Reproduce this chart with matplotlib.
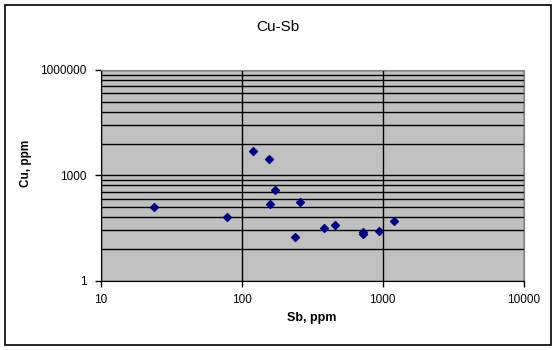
import matplotlib.pyplot as plt
from matplotlib.patches import Rectangle
from matplotlib.ticker import FixedLocator, NullFormatter

plt.rcParams['font.family'] = ['Liberation Sans', 'DejaVu Sans']

# Sb and Cu concentrations, ppm
sb = [24, 79, 120, 157, 173, 160, 261, 240, 385, 461, 724, 724, 946, 1208]
cu = [121, 63, 4890, 2830, 370, 147, 168, 16.9, 30.5, 37.8, 23.4, 20.9, 25.5, 49.2]

x_ticks = [10, 100, 1000, 10000]
y_ticks = [1, 1000, 1000000]
# minor gridlines sit at the base-10 positions inside each 1000x step
y_minor = [j ** 3 * base for base in (1, 1000) for j in range(2, 10)]

W, H = 557, 350
fig = plt.figure(figsize=(W / 100, H / 100), dpi=100)
fig.patches.append(Rectangle((5 / W, 5 / H), 546 / W, 340 / H,
                             transform=fig.transFigure, fill=False,
                             edgecolor='black', linewidth=1.2))

ax = fig.add_axes([100.5 / W, 1 - 280.5 / H, 423 / W, 210.5 / H])
ax.set_facecolor('#c0c0c0')
ax.set_xscale('log')
ax.set_yscale('log')
ax.set_xlim(10, 10000)
ax.set_ylim(1, 1000000)

ax.xaxis.set_major_locator(FixedLocator(x_ticks))
ax.xaxis.set_minor_locator(FixedLocator([]))
ax.set_xticklabels([str(v) for v in x_ticks])
ax.yaxis.set_major_locator(FixedLocator(y_ticks))
ax.yaxis.set_minor_locator(FixedLocator(y_minor))
ax.yaxis.set_minor_formatter(NullFormatter())
ax.set_yticklabels([str(v) for v in y_ticks])

ax.grid(True, which='major', color='black', linewidth=1)
ax.grid(True, which='minor', axis='y', color='black', linewidth=1)
ax.set_axisbelow(True)

ax.tick_params(which='major', direction='out', length=4, width=1,
               labelsize=8.5, pad=6)
ax.tick_params(which='minor', length=0)

for side in ('top', 'right'):
    ax.spines[side].set_color('#808080')
for side in ('left', 'bottom'):
    ax.spines[side].set_color('black')

ax.scatter(sb, cu, marker='D', s=16, color='#000080', zorder=3, clip_on=False)

fig.text(312 / W, 1 - 318 / H, 'Sb, ppm', ha='center', va='center',
         fontsize=9, fontweight='bold')
fig.text(26 / W, 1 - 163 / H, 'Cu, ppm', ha='center', va='center',
         rotation=90, fontsize=8.5, fontweight='bold')
fig.text(278 / W, 1 - 27 / H, 'Cu-Sb', ha='center', va='center', fontsize=11)

plt.savefig('out.png', dpi=100)
